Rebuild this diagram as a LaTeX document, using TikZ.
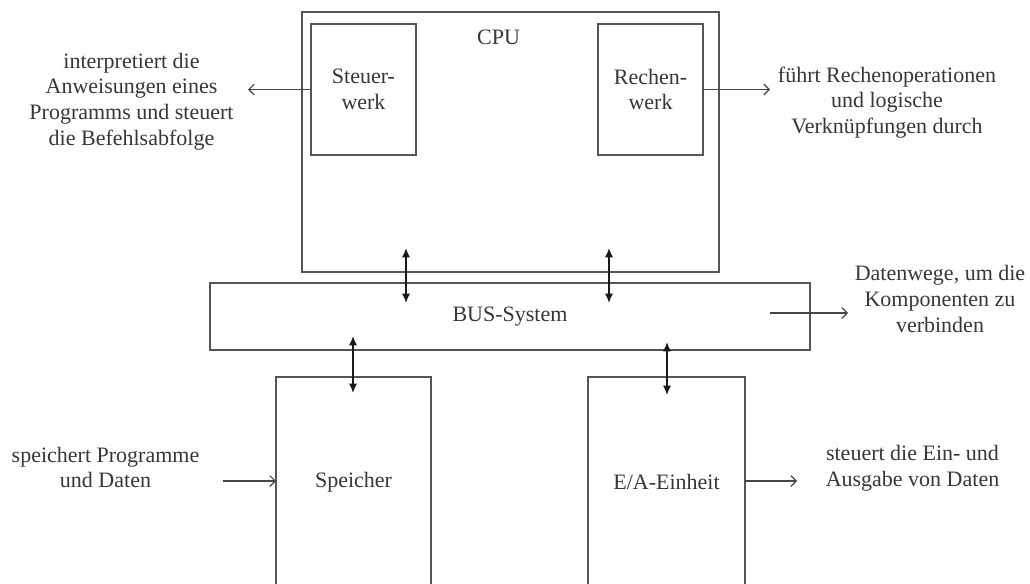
\documentclass[tikz,border=0pt]{standalone}
\usepackage{fontspec}
\setmainfont{Liberation Serif}
\usetikzlibrary{arrows.meta}
\definecolor{linec}{RGB}{85,85,85}
\definecolor{textc}{RGB}{55,55,55}
\definecolor{arrc}{RGB}{25,25,25}
\definecolor{harrc}{RGB}{70,70,70}
\tikzset{
  box/.style={draw=linec, line width=1.2pt, inner sep=0pt, outer sep=0pt, text=textc, align=center},
  note/.style={text=textc, align=center, inner sep=0pt},
  harrow/.style={draw=harrc, line width=0.9pt, -{Straight Barb[length=4pt,width=8pt]}},
  varrow/.style={draw=arrc, line width=1.1pt, {Latex[length=7pt,width=6pt]}-{Latex[length=7pt,width=6pt]}}
}
\begin{document}
\begin{tikzpicture}[x=0.75pt, y=-0.75pt, font=\fontsize{16.5}{19.3}\selectfont]
\useasboundingbox (0,0) rectangle (1030,583);
\clip (0,0) rectangle (1030,583);
\fill[white] (0,0) rectangle (1030,583);

% CPU and its units
\node[box, minimum width=312.75pt, minimum height=195pt] (cpu) at (510.5,142) {};
\node[note, anchor=center] (cpulabel) at (498.5,37) {CPU};
\node[box, minimum width=78.75pt, minimum height=98.25pt] (sw) at (363.5,89.5) {Steuer-\\werk};
\node[box, minimum width=78.75pt, minimum height=98.25pt] (rw) at (650.5,89.5) {Rechen-\\werk};

% BUS
\node[box, minimum width=450pt, minimum height=50.25pt] (bus) at (510,316.5) {BUS-System};

% Memory and I/O (cut by the lower edge)
\node[box, minimum width=116.25pt, minimum height=157.5pt] (mem) at (353.5,482) {Speicher};
\node[box, minimum width=117.75pt, minimum height=157.5pt] (io) at (666.5,482) {E/A-Einheit};

% Notes
\node[note] (n1) at (131.5,101.5) {interpretiert die\\Anweisungen eines\\Programms und steuert\\die Befehlsabfolge};
\node[note] (n2) at (887,102.5) {führt Rechenoperationen\\und logische\\Verknüpfungen durch};
\node[note] (n3) at (940,299) {Datenwege, um die\\Komponenten zu\\verbinden};
\node[note] (n4) at (105.5,467.5) {speichert Programme\\und Daten};
\node[note] (n5) at (912.5,468) {steuert die Ein- und\\Ausgabe von Daten};

% Coordinates for free arrow ends
\coordinate (swout) at (248,89.5);
\coordinate (rwout) at (770,89.5);
\coordinate (busin) at (770,313);
\coordinate (busout) at (848,313);
\coordinate (memin) at (223,481);
\coordinate (ioout) at (797,481);
\coordinate (a1t) at (406,248);
\coordinate (a1b) at (406,303);
\coordinate (a2t) at (609,248);
\coordinate (a2b) at (609,303);
\coordinate (a3t) at (353,336);
\coordinate (a3b) at (353,393);
\coordinate (a4t) at (667,342);
\coordinate (a4b) at (667,395);

% Horizontal arrows
\draw[harrow] (sw.west) -- (swout);
\draw[harrow] (rw.east) -- (rwout);
\draw[harrow] (busin) -- (busout);
\draw[harrow] (memin) -- (mem.west |- memin);
\draw[harrow] (io.east |- ioout) -- (ioout);

% Vertical double arrows
\draw[varrow] (a1t) -- (a1b);
\draw[varrow] (a2t) -- (a2b);
\draw[varrow] (a3t) -- (a3b);
\draw[varrow] (a4t) -- (a4b);
\end{tikzpicture}
\end{document}
